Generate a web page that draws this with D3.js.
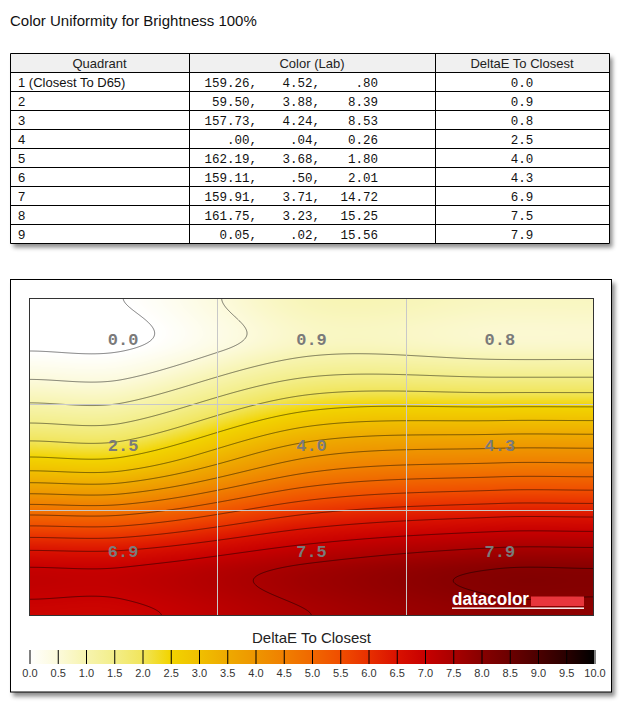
<!DOCTYPE html>
<html>
<head>
<meta charset="utf-8">
<script src="https://cdn.jsdelivr.net/npm/d3@7"></script>
<style>
body { margin: 0; background: #fff; }
svg { display: block; }
</style>
</head>
<body>
<div id="chart"></div>
<script>
// table rows
var quadrants = ["1 (Closest To D65)", "2", "3", "4", "5", "6", "7", "8", "9"];
var labL = ["159.26", "59.50", "157.73", ".00", "162.19", "159.11", "159.91", "161.75", "0.05"];
var labA = ["4.52", "3.88", "4.24", ".04", "3.68", ".50", "3.71", "3.23", ".02"];
var labB = [".80", "8.39", "8.53", "0.26", "1.80", "2.01", "14.72", "15.25", "15.56"];
var deltaE = [0.0, 0.9, 0.8, 2.5, 4.0, 4.3, 6.9, 7.5, 7.9];
var headers = ["Quadrant", "Color (Lab)", "DeltaE To Closest"];

// colour legend
var colorStops = [0, 0.5, 1, 1.5, 2, 2.5, 3, 3.5, 4, 4.5, 5, 5.5, 6, 6.5, 7, 7.5, 8, 8.5, 9, 9.5, 10];
var colorValues = ["#ffffff", "#fcfadc", "#f7f4b0", "#f3ee8a", "#f1e55c", "#f2d400", "#f0c000",
    "#eeaa00", "#ee9600", "#f08000", "#f06800", "#f04e00", "#e83000", "#da1200", "#c80000",
    "#aa0000", "#880000", "#6c0000", "#4c0000", "#2a0000", "#000000"];
var legendTicks = [0, 0.5, 1, 1.5, 2, 2.5, 3, 3.5, 4, 4.5, 5, 5.5, 6, 6.5, 7, 7.5, 8, 8.5, 9, 9.5, 10];
var contourLevels = [0, 0.5, 1, 1.5, 2, 2.5, 3, 3.5, 4, 4.5, 5, 5.5, 6, 6.5, 7, 7.5, 8, 8.5, 9, 9.5];

var svg = d3.select("#chart")
    .append("svg")
    .attr("width", 629)
    .attr("height", 708);

var defs = svg.append("defs");
defs.append("filter")
    .attr("id", "shadow")
    .attr("x", "-5%").attr("y", "-5%").attr("width", "115%").attr("height", "115%")
    .append("feDropShadow")
    .attr("dx", 3).attr("dy", 4)
    .attr("stdDeviation", 2)
    .attr("flood-color", "#000")
    .attr("flood-opacity", 0.45);

// title
svg.append("text")
    .attr("x", 10)
    .attr("y", 26)
    .style("font-family", "Liberation Sans, Arial, sans-serif")
    .style("font-size", "15px")
    .style("fill", "#111")
    .text("Color Uniformity for Brightness 100%");

// ---------- table ----------
var colEdges = [10, 189, 435, 609];
var rowY = d3.scaleLinear().domain([0, 10]).range([53.5, 243.5]);
var table = svg.append("g");

table.append("rect")
    .attr("x", colEdges[0] + 0.5).attr("y", rowY(0))
    .attr("width", colEdges[3] - colEdges[0]).attr("height", rowY(10) - rowY(0))
    .attr("fill", "#fff")
    .attr("filter", "url(#shadow)");
table.append("rect")
    .attr("x", colEdges[0] + 0.5).attr("y", rowY(0))
    .attr("width", colEdges[3] - colEdges[0]).attr("height", rowY(1) - rowY(0))
    .attr("fill", "#f0f0f0");

// row lines
table.selectAll("line.row")
    .data(d3.range(0, 11))
    .enter().append("line")
    .attr("x1", colEdges[0] + 0.5).attr("x2", colEdges[3] + 0.5)
    .attr("y1", function(d) { return rowY(d); })
    .attr("y2", function(d) { return rowY(d); })
    .attr("stroke", "#000");
table.selectAll("line.col")
    .data(colEdges)
    .enter().append("line")
    .attr("x1", function(d) { return d + 0.5; })
    .attr("x2", function(d) { return d + 0.5; })
    .attr("y1", rowY(0)).attr("y2", rowY(10))
    .attr("stroke", "#000");

var sans = "Liberation Sans, Arial, sans-serif";
var mono = "Liberation Mono, Courier New, monospace";

table.selectAll("text.head")
    .data(headers)
    .enter().append("text")
    .attr("x", function(d, i) { return (colEdges[i] + colEdges[i + 1]) / 2; })
    .attr("y", rowY(0) + 14.5)
    .style("text-anchor", "middle")
    .style("font-family", sans)
    .style("font-size", "13px")
    .style("fill", "#222")
    .text(function(d) { return d; });

var rows = table.selectAll("g.row")
    .data(quadrants)
    .enter().append("g")
    .attr("transform", function(d, i) { return "translate(0," + (rowY(i + 1) + 14.5) + ")"; });

rows.append("text")
    .attr("x", 18)
    .style("font-family", sans)
    .style("font-size", "13px")
    .style("fill", "#111")
    .text(function(d) { return d; });

var fmt1 = d3.format(".1f");
var monoCols = [
    {x: 257, vals: labL, suffix: ","},
    {x: 320, vals: labA, suffix: ","},
    {x: 378, vals: labB, suffix: ""}
];
monoCols.forEach(function(c) {
    rows.append("text")
        .attr("x", c.x)
        .style("text-anchor", "end")
        .style("font-family", mono)
        .style("font-size", "12.5px")
        .style("fill", "#111")
        .text(function(d, i) { return c.vals[i] + c.suffix; });
});
rows.append("text")
    .attr("x", (colEdges[2] + colEdges[3]) / 2)
    .style("text-anchor", "middle")
    .style("font-family", mono)
    .style("font-size", "12.5px")
    .style("fill", "#111")
    .text(function(d, i) { return fmt1(deltaE[i]); });

// ---------- chart panel ----------
svg.append("rect")
    .attr("x", 10.5).attr("y", 279.5)
    .attr("width", 601).attr("height", 412.5)
    .attr("fill", "#fff")
    .attr("stroke", "#000")
    .attr("filter", "url(#shadow)");

var hm = {left: 29, top: 298, right: 594, bottom: 616};
var xScale = d3.scaleBand().domain([0, 1, 2]).range([hm.left, hm.right]);
var yScale = d3.scaleBand().domain([0, 1, 2]).range([hm.top, hm.bottom]);
var colorScale = d3.scaleLinear()
    .domain(colorStops)
    .range(colorValues)
    .interpolate(d3.interpolateRgb)
    .clamp(true);

// knots: edge, three quadrant centres, edge
var xKnots = [hm.left].concat([0, 1, 2].map(function(i) { return xScale(i) + xScale.bandwidth() / 2; }), [hm.right]);
var yKnots = [hm.top].concat([0, 1, 2].map(function(i) { return yScale(i) + yScale.bandwidth() / 2; }), [hm.bottom]);

function spline(knots, v) {
    var m = [0, 0, 0, 0, 0];
    for (var i = 1; i < 4; i++) m[i] = (v[i + 1] - v[i - 1]) / (knots[i + 1] - knots[i - 1]);
    return function(t) {
        if (t <= knots[0]) return v[0];
        if (t >= knots[4]) return v[4];
        var k = 0;
        while (t > knots[k + 1]) k++;
        var h = knots[k + 1] - knots[k], u = (t - knots[k]) / h, u2 = u * u, u3 = u2 * u;
        return (2 * u3 - 3 * u2 + 1) * v[k] + (u3 - 2 * u2 + u) * h * m[k]
            + (-2 * u3 + 3 * u2) * v[k + 1] + (u3 - u2) * h * m[k + 1];
    };
}
var colSplines = [0, 1, 2].map(function(c) {
    var a = deltaE[c], b = deltaE[3 + c], d = deltaE[6 + c];
    return spline(yKnots, [a, a, b, d, d]);
});
function rowFn(y) {
    var c = colSplines.map(function(f) { return f(y); });
    return spline(xKnots, [c[0], c[0], c[1], c[2], c[2]]);
}

// fill the field on a canvas
var W = hm.right - hm.left, H = hm.bottom - hm.top;
var canvas = document.createElement("canvas");
canvas.width = W; canvas.height = H;
var ctx = canvas.getContext("2d");
var img = ctx.createImageData(W, H);
var lut = d3.range(0, 1001).map(function(i) { return d3.rgb(colorScale(i / 100)); });
for (var py = 0; py < H; py++) {
    var f = rowFn(hm.top + py + 0.5);
    for (var px = 0; px < W; px++) {
        var v = f(hm.left + px + 0.5);
        var c = lut[Math.max(0, Math.min(1000, Math.round(v * 100)))];
        var o = (py * W + px) * 4;
        img.data[o] = c.r; img.data[o + 1] = c.g; img.data[o + 2] = c.b; img.data[o + 3] = 255;
    }
}
ctx.putImageData(img, 0, 0);

defs.append("clipPath").attr("id", "hmclip")
    .append("rect")
    .attr("x", hm.left).attr("y", hm.top).attr("width", W).attr("height", H);

var heat = svg.append("g").attr("clip-path", "url(#hmclip)");
heat.append("image")
    .attr("x", hm.left).attr("y", hm.top)
    .attr("width", W).attr("height", H)
    .attr("preserveAspectRatio", "none")
    .attr("href", canvas.toDataURL());

// contour lines (grid padded so the outer ring falls outside the clip)
var pad = 3, gw = W + 2 * pad, gh = H + 2 * pad;
var grid = new Float64Array(gw * gh);
for (var gy = 0; gy < gh; gy++) {
    var fr = rowFn(hm.top - pad + gy + 0.5);
    for (var gx = 0; gx < gw; gx++) grid[gy * gw + gx] = fr(hm.left - pad + gx + 0.5);
}
var contours = d3.contours().size([gw, gh]).thresholds(contourLevels)(grid);
heat.append("g")
    .attr("transform", "translate(" + (hm.left - pad) + "," + (hm.top - pad) + ")")
    .selectAll("path")
    .data(contours)
    .enter().append("path")
    .attr("d", d3.geoPath())
    .attr("fill", "none")
    .attr("stroke", "#000")
    .attr("stroke-opacity", 0.5)
    .attr("stroke-width", 1);

// quadrant grid lines
heat.selectAll("line.vx")
    .data([1, 2])
    .enter().append("line")
    .attr("x1", function(d) { return Math.round(xScale(d)) + 0.5; })
    .attr("x2", function(d) { return Math.round(xScale(d)) + 0.5; })
    .attr("y1", hm.top).attr("y2", hm.bottom)
    .attr("stroke", "#c8c8c8");
heat.selectAll("line.hy")
    .data([1, 2])
    .enter().append("line")
    .attr("y1", function(d) { return Math.round(yScale(d)) + 0.5; })
    .attr("y2", function(d) { return Math.round(yScale(d)) + 0.5; })
    .attr("x1", hm.left).attr("x2", hm.right)
    .attr("stroke", "#c8c8c8");

// quadrant values
heat.selectAll("text.val")
    .data(deltaE)
    .enter().append("text")
    .attr("x", function(d, i) { return xScale(i % 3) + xScale.bandwidth() / 2; })
    .attr("y", function(d, i) { return yScale(Math.floor(i / 3)) + yScale.bandwidth() / 2 - 6; })
    .style("text-anchor", "middle")
    .style("font-family", mono)
    .style("font-weight", "bold")
    .style("font-size", "17px")
    .style("fill", "#7a7a7a")
    .text(function(d) { return fmt1(d); });

// datacolor mark
heat.append("text")
    .attr("x", 452).attr("y", 605)
    .attr("textLength", 77).attr("lengthAdjust", "spacingAndGlyphs")
    .style("font-family", sans)
    .style("font-weight", "bold")
    .style("font-size", "18px")
    .style("fill", "#fff")
    .text("datacolor");
heat.append("rect")
    .attr("x", 531).attr("y", 596.5).attr("width", 53).attr("height", 9.5)
    .attr("fill", "#e8353c");
heat.append("rect")
    .attr("x", 452).attr("y", 607.5).attr("width", 132).attr("height", 1.4)
    .attr("fill", "#fff");

svg.append("rect")
    .attr("x", hm.left + 0.5).attr("y", hm.top + 0.5)
    .attr("width", W - 1).attr("height", H - 1)
    .attr("fill", "none")
    .attr("stroke", "#333");

// ---------- colour bar ----------
var legendX = d3.scaleLinear().domain([0, 10]).range([hm.left, hm.right]);
var grad = defs.append("linearGradient").attr("id", "lgrad");
grad.selectAll("stop")
    .data(colorStops)
    .enter().append("stop")
    .attr("offset", function(d) { return (d / 10 * 100) + "%"; })
    .attr("stop-color", function(d, i) { return colorValues[i]; });

svg.append("text")
    .attr("x", (hm.left + hm.right) / 2)
    .attr("y", 643)
    .style("text-anchor", "middle")
    .style("font-family", sans)
    .style("font-size", "15px")
    .style("fill", "#222")
    .text("DeltaE To Closest");

svg.append("rect")
    .attr("x", hm.left).attr("y", 650)
    .attr("width", W).attr("height", 14)
    .attr("fill", "url(#lgrad)");

var legendAxis = d3.axisBottom(legendX)
    .tickValues(legendTicks)
    .tickFormat(fmt1)
    .tickSizeInner(-14)
    .tickSizeOuter(0)
    .tickPadding(5);
var lg = svg.append("g")
    .attr("transform", "translate(0.5,664)")
    .call(legendAxis);
lg.select(".domain").remove();
lg.selectAll(".tick line").attr("stroke", "#000");
lg.selectAll(".tick text")
    .style("font-family", sans)
    .style("font-size", "11px")
    .style("fill", "#333");
</script>
</body>
</html>
